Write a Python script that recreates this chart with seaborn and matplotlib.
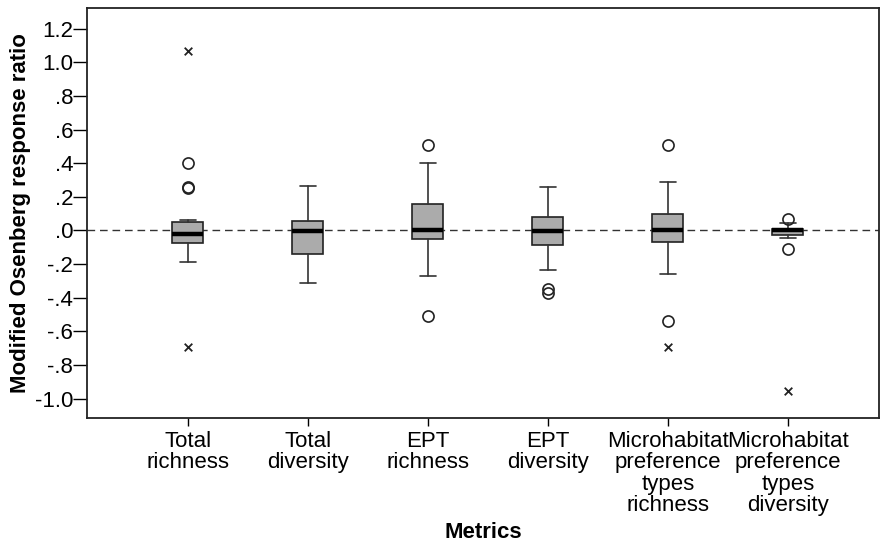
import numpy as np
import pandas as pd
import matplotlib
matplotlib.use("Agg")
import matplotlib.pyplot as plt
import seaborn as sns

# Box statistics
metrics = ["Total\nrichness", "Total\ndiversity", "EPT\nrichness", "EPT\ndiversity",
           "Microhabitat\npreference\ntypes\nrichness",
           "Microhabitat\npreference\ntypes\ndiversity"]
whis_lo = [-0.190, -0.315, -0.271, -0.237, -0.261, -0.043]
q1 = [-0.077, -0.138, -0.053, -0.087, -0.067, -0.025]
median = [-0.020, -0.004, 0.000, -0.006, 0.002, 0.000]
q3 = [0.052, 0.055, 0.160, 0.083, 0.101, 0.010]
whis_hi = [0.065, 0.263, 0.404, 0.261, 0.287, 0.046]

# outliers (circles) and extremes (crosses)
outliers = [[0.404, 0.251, 0.256], [], [0.510, -0.510], [-0.350, -0.370],
            [0.510, -0.538], [0.071, -0.113]]
extreme_metric = [0, 0, 4, 5]
extreme_value = [1.066, -0.692, -0.692, -0.955]

sns.set_style("ticks")
plt.rcParams["font.family"] = ["Liberation Sans", "DejaVu Sans"]
plt.rcParams["text.color"] = "black"
plt.rcParams["axes.labelcolor"] = "black"
plt.rcParams["xtick.color"] = "black"
plt.rcParams["ytick.color"] = "black"

fig, ax = plt.subplots(figsize=(8.91, 5.44), dpi=100)
fig.subplots_adjust(left=0.0976, right=0.9865, top=0.985, bottom=0.2316)

ax.axhline(0, color="#333333", lw=1.0, ls=(0, (5.5, 3.5)), zorder=1)

stats = []
for i in range(len(metrics)):
    stats.append(dict(whislo=whis_lo[i], q1=q1[i], med=median[i], q3=q3[i],
                      whishi=whis_hi[i], fliers=outliers[i], label=metrics[i]))

ax.bxp(stats, positions=range(len(metrics)), widths=0.26, patch_artist=True,
       boxprops=dict(facecolor="#ababab", edgecolor="#222222", linewidth=1.2),
       medianprops=dict(color="black", linewidth=3.2),
       whiskerprops=dict(color="#333333", linewidth=1.2),
       capprops=dict(color="#333333", linewidth=1.2),
       capwidths=0.13,
       flierprops=dict(marker="o", markersize=8, markerfacecolor="none",
                       markeredgecolor="#222222", markeredgewidth=1.2),
       manage_ticks=False, zorder=2)

ext = pd.DataFrame({"pos": extreme_metric, "value": extreme_value})
sns.scatterplot(data=ext, x="pos", y="value", marker="x", s=30, color="#222222",
                linewidth=1.3, ax=ax, zorder=3)

ax.set_xlim(-0.84, 5.76)
ax.set_ylim(-1.116, 1.323)
ax.set_xticks(range(len(metrics)))
ax.set_xticklabels(metrics, fontsize=16, linespacing=1.04)
yticks = np.round(np.arange(-1.0, 1.21, 0.2), 1)
ylabels = []
for v in yticks:
    if abs(v) < 1e-9:
        s = ".0"
    elif abs(v) < 1:
        s = f"{v:.1f}".replace("0.", ".")
    else:
        s = f"{v:.1f}"
    ylabels.append(s)
ax.set_yticks(yticks)
ax.set_yticklabels(ylabels, fontsize=16)
ax.tick_params(axis="y", length=10, width=1.0, pad=0)
ax.tick_params(axis="x", length=6, width=1.0, pad=3)

for sp in ax.spines.values():
    sp.set_visible(True)
    sp.set_color("#222222")
    sp.set_linewidth(1.3)

ax.set_xlabel("Metrics", fontsize=16, fontweight="bold", labelpad=4)
ax.set_ylabel("Modified Osenberg response ratio", fontsize=16, fontweight="bold", labelpad=3)

fig.savefig("out.png", dpi=100)
